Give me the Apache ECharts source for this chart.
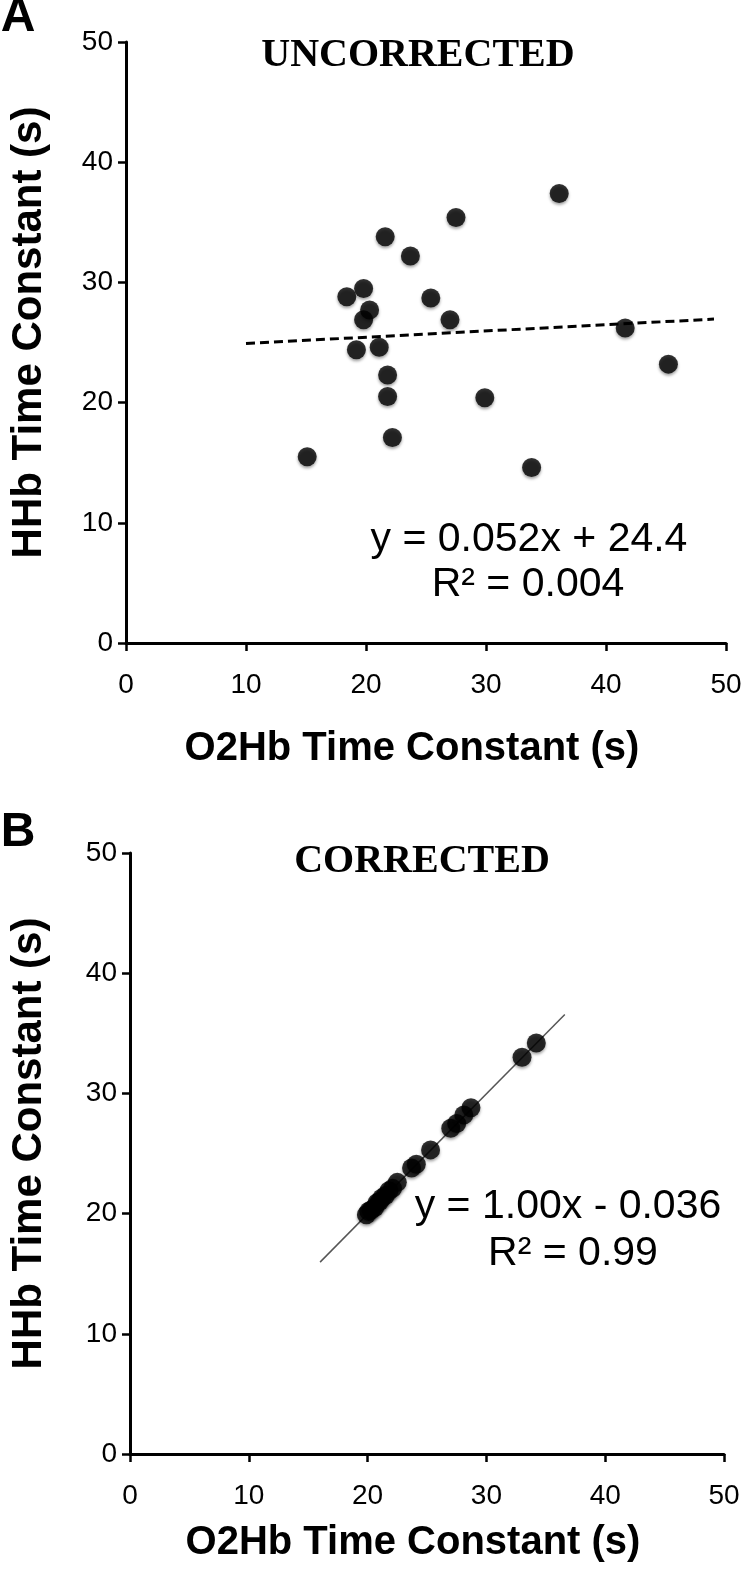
<!DOCTYPE html>
<html>
<head>
<meta charset="utf-8">
<script src="https://cdn.jsdelivr.net/npm/echarts@6/dist/echarts.min.js"></script>
<style>
  html, body { margin: 0; padding: 0; background: #fff; }
  #chart { width: 746px; height: 1571px; }
</style>
</head>
<body>
<div id="chart"></div>
<script>
// ---- data ----
const xTicks = [0, 10, 20, 30, 40, 50];
const yTicks = [0, 10, 20, 30, 40, 50];

// Panel A: uncorrected
const uncorrX = [15.1, 18.4, 19.2, 19.8, 19.8, 20.3, 21.1, 21.6, 21.8, 21.8, 22.2, 23.7, 25.4, 27.0, 27.5, 29.9, 33.8, 36.1, 41.6, 45.2];
const uncorrY = [15.5, 28.8, 24.4, 29.5, 26.9, 27.7, 24.6, 33.8, 22.3, 20.5, 17.1, 32.2, 28.7, 26.9, 35.4, 20.4, 14.6, 37.4, 26.2, 23.2];

// Panel B: corrected
const corrX = [19.9, 20.1, 20.3, 20.6, 20.8, 21.0, 21.2, 21.5, 21.8, 22.1, 22.5, 23.7, 24.1, 25.3, 27.0, 27.5, 28.1, 28.7, 33.0, 34.2];
const corrY = [19.9, 20.2, 20.3, 20.5, 20.9, 21.0, 21.3, 21.5, 21.9, 22.1, 22.6, 23.8, 24.1, 25.3, 27.1, 27.5, 28.2, 28.8, 33.0, 34.2];

// Fits (from the equations printed on the chart)
const fitA = { slope: 0.052, intercept: 24.4, xFrom: 10, xTo: 49 };
const fitB = { slope: 1.00, intercept: -0.036, xFrom: 16, xTo: 36.6 };

const titleA = 'UNCORRECTED';
const titleB = 'CORRECTED';
const eqA = ['y = 0.052x + 24.4', 'R² = 0.004'];
const eqB = ['y = 1.00x - 0.036', 'R² = 0.99'];
const xName = 'O2Hb Time Constant (s)';
const yName = 'HHb Time Constant (s)';

// ---- build ----
const zip = (xs, ys) => xs.map((x, i) => [x, ys[i]]);
const fitLine = f => [[f.xFrom, f.slope * f.xFrom + f.intercept], [f.xTo, f.slope * f.xTo + f.intercept]];

const SANS = 'Liberation Sans, Arial, Helvetica, sans-serif';
const SERIF = 'Liberation Serif, Times New Roman, serif';

function xAxisCfg(gridIndex, nameGap) {
  return {
    gridIndex, type: 'value', min: 0, max: 50, interval: 10,
    name: xName, nameLocation: 'middle', nameGap,
    nameTextStyle: { fontFamily: SANS, fontWeight: 'bold', fontSize: 40, color: '#000', padding: [0, 28, 0, 0] },
    axisLine: { show: true, onZero: false, lineStyle: { color: '#000', width: 3 } },
    axisTick: { show: true, length: 8, lineStyle: { color: '#000', width: 2.5 } },
    axisLabel: { fontFamily: SANS, fontSize: 28, color: '#000', margin: 28,
      formatter: v => xTicks.includes(v) ? String(v) : '' },
    splitLine: { show: false }
  };
}
function yAxisCfg(gridIndex, nameGap) {
  return {
    gridIndex, type: 'value', min: 0, max: 50, interval: 10,
    name: yName, nameLocation: 'middle', nameGap, nameRotate: 90,
    nameTextStyle: { fontFamily: SANS, fontWeight: 'bold', fontSize: 42, color: '#000', padding: [0, 0, 0, 20] },
    axisLine: { show: true, onZero: false, lineStyle: { color: '#000', width: 3 } },
    axisTick: { show: true, length: 8, lineStyle: { color: '#000', width: 2.5 } },
    axisLabel: { fontFamily: SANS, fontSize: 28, color: '#000', margin: 13,
      formatter: v => yTicks.includes(v) ? String(v) : '' },
    splitLine: { show: false }
  };
}

const dot = {
  color: '#000',
  shadowBlur: 3, shadowColor: 'rgba(0,0,0,0.45)', shadowOffsetY: 2
};

const textEl = (text, x, y, font, size, weight) => ({
  type: 'text', x, y,
  style: { text, fill: '#000', font: `${weight} ${size}px ${font}`, align: 'center', verticalAlign: 'middle' }
});

const option = {
  animation: false,
  backgroundColor: '#fff',
  grid: [
    { left: 124, top: 42, width: 602, height: 601 },
    { left: 128, top: 853, width: 596, height: 601 }
  ],
  xAxis: [xAxisCfg(0, 86), xAxisCfg(1, 69)],
  yAxis: [yAxisCfg(0, 76), yAxisCfg(1, 80)],
  series: [
    { type: 'line', xAxisIndex: 0, yAxisIndex: 0, data: fitLine(fitA), symbol: 'none', z: 2,
      lineStyle: { color: '#000', width: 3, type: [9, 5] } },
    { type: 'scatter', xAxisIndex: 0, yAxisIndex: 0, data: zip(uncorrX, uncorrY),
      symbol: 'circle', symbolSize: 19, itemStyle: dot, z: 3 },
    { type: 'line', xAxisIndex: 1, yAxisIndex: 1, data: fitLine(fitB), symbol: 'none', z: 2,
      lineStyle: { color: '#555', width: 1.5 } },
    { type: 'scatter', xAxisIndex: 1, yAxisIndex: 1, data: zip(corrX, corrY),
      symbol: 'circle', symbolSize: 19, itemStyle: dot, z: 3 }
  ],
  graphic: [
    textEl('A', 18, 18, SANS, 48, 'bold'),
    textEl('B', 18, 833, SANS, 48, 'bold'),
    textEl(titleA, 418, 56, SERIF, 40, 'bold'),
    textEl(titleB, 422, 862, SERIF, 40, 'bold'),
    textEl(eqA[0], 529, 540, SANS, 41, 'normal'),
    textEl(eqA[1], 528, 585, SANS, 41, 'normal'),
    textEl(eqB[0], 568, 1207, SANS, 41, 'normal'),
    textEl(eqB[1], 573, 1254, SANS, 41, 'normal')
  ]
};

const chart = echarts.init(document.getElementById('chart'), null, { renderer: 'canvas' });
chart.setOption(option);
</script>
</body>
</html>
